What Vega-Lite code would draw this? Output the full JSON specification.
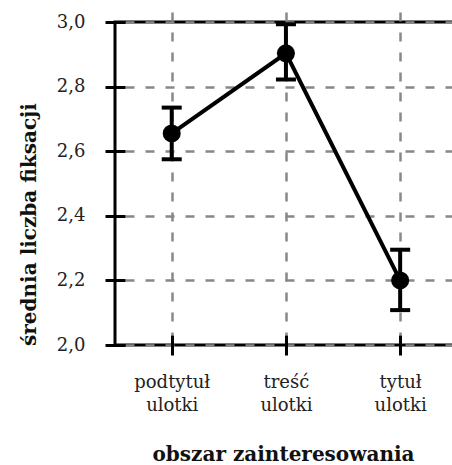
{
  "$schema": "https://vega.github.io/schema/vega-lite/v6.json",
  "width": 339,
  "height": 323,
  "autosize": {"type": "none"},
  "padding": {"left": 115, "top": 22, "right": 0, "bottom": 120},
  "background": "white",
  "config": {
    "view": {"stroke": "black", "strokeWidth": 3},
    "font": "DejaVu Serif",
    "style": {
      "guide-label": {"font": "DejaVu Serif"},
      "guide-title": {"font": "DejaVu Serif"}
    },
    "axis": {
      "labelFont": "DejaVu Serif",
      "titleFont": "DejaVu Serif",
      "labelColor": "#222",
      "titleColor": "#111",
      "labelFontSize": 18,
      "titleFontSize": 20,
      "titleFontWeight": "bold",
      "domain": false,
      "offset": -10,
      "tickSize": 20,
      "tickWidth": 3,
      "tickColor": "black",
      "grid": true,
      "gridColor": "#888888",
      "gridWidth": 2.5,
      "gridDash": [9, 11]
    }
  },
  "data": {
    "values": [
      {"obszar": "podtytuł ulotki", "srednia": 2.655, "lo": 2.575, "hi": 2.735},
      {"obszar": "treść ulotki", "srednia": 2.903, "lo": 2.822, "hi": 2.993},
      {"obszar": "tytuł ulotki", "srednia": 2.2, "lo": 2.108, "hi": 2.295}
    ]
  },
  "encoding": {
    "x": {
      "field": "obszar",
      "type": "nominal",
      "sort": null,
      "scale": {"type": "point", "padding": 0.484, "align": 0.513},
      "axis": {
        "title": "obszar zainteresowania",
        "labelAngle": 0,
        "labelExpr": "split(datum.label, ' ')",
        "labelLineHeight": 23,
        "labelPadding": 18,
        "titlePadding": 30,
        "titleX": 168
      }
    }
  },
  "layer": [
    {
      "mark": {"type": "line", "color": "black", "strokeWidth": 4},
      "encoding": {
        "y": {
          "field": "srednia",
          "type": "quantitative",
          "scale": {"domain": [2.0, 3.0], "zero": false},
          "axis": {
            "title": "średnia liczba fiksacji",
            "values": [2.0, 2.2, 2.4, 2.6, 2.8, 3.0],
            "labelExpr": "replace(format(datum.value, '.1f'), '.', ',')",
            "labelPadding": 20,
            "titlePadding": 17,
            "titleY": 202
          }
        }
      }
    },
    {
      "mark": {"type": "rule", "color": "black", "strokeWidth": 4},
      "encoding": {
        "y": {"field": "lo", "type": "quantitative"},
        "y2": {"field": "hi"}
      }
    },
    {
      "mark": {"type": "tick", "color": "black", "thickness": 4, "size": 20, "opacity": 1},
      "encoding": {"y": {"field": "lo", "type": "quantitative"}}
    },
    {
      "mark": {"type": "tick", "color": "black", "thickness": 4, "size": 20, "opacity": 1},
      "encoding": {"y": {"field": "hi", "type": "quantitative"}}
    },
    {
      "mark": {"type": "point", "shape": "circle", "filled": true, "color": "black", "size": 324, "opacity": 1},
      "encoding": {"y": {"field": "srednia", "type": "quantitative"}}
    }
  ]
}
